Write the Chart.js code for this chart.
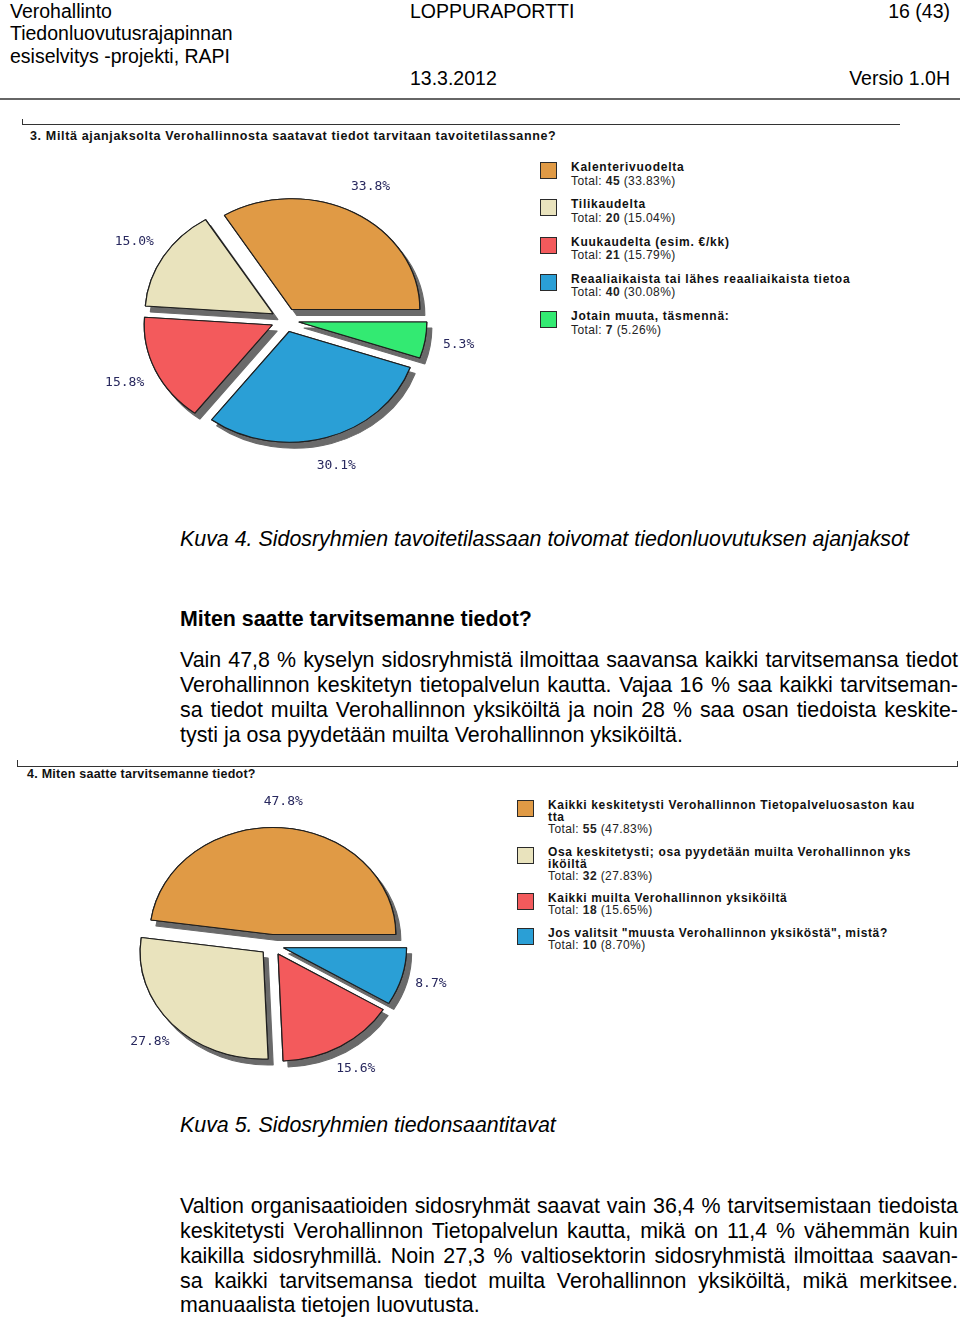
<!DOCTYPE html>
<html lang="fi">
<head>
<meta charset="utf-8">
<title>Loppuraportti 16 (43)</title>
<script src="https://cdn.jsdelivr.net/npm/chart.js@4.4.1/dist/chart.umd.min.js"></script>
<style>
  body { margin:0; width:960px; height:1321px; position:relative; overflow:hidden; background:#fff;
         font-family:"Liberation Sans", Arial, sans-serif; color:#000; }
  .t { position:absolute; white-space:nowrap; }
  .hd { font-size:19.5px; line-height:22px; }
  .body { font-size:21.4px; line-height:25px; }
  .j { position:absolute; left:180px; width:778px; text-align:justify; text-align-last:justify; font-size:21.4px; line-height:25px; }
  .rule { position:absolute; background:#333; }
  .qtitle { font-weight:bold; font-size:12.5px; letter-spacing:0.65px; color:#111; }
  .sw { position:absolute; box-sizing:border-box; width:17px; height:17px; border:1.5px solid #2a2a2a; }
  .lg { position:absolute; font-size:12px; white-space:nowrap; color:#222; letter-spacing:0.4px; }
  .lg .nm { font-weight:bold; letter-spacing:0.75px; color:#111; }
  #legend2 .nm { letter-spacing:0.65px; }
  canvas { position:absolute; }
</style>
</head>
<body>

<div class="t hd" style="left:10px;top:0">Verohallinto</div>
<div class="t hd" style="left:10px;top:22px">Tiedonluovutusrajapinnan</div>
<div class="t hd" style="left:10px;top:45px">esiselvitys -projekti, RAPI</div>
<div class="t hd" style="left:410px;top:0">LOPPURAPORTTI</div>
<div class="t hd" style="right:10px;top:0">16 (43)</div>
<div class="t hd" style="left:410px;top:67px">13.3.2012</div>
<div class="t hd" style="right:10px;top:67px">Versio 1.0H</div>
<div class="rule" style="left:0;top:98px;width:960px;height:2px;background:#666"></div>

<!-- kysymys 3 -->
<div class="rule" style="left:22px;top:124px;width:878px;height:1px"></div>
<div class="rule" style="left:22px;top:119px;width:1px;height:6px"></div>
<div class="t qtitle" style="left:30px;top:129px">3. Miltä ajanjaksolta Verohallinnosta saatavat tiedot tarvitaan tavoitetilassanne?</div>
<canvas id="pie1" width="420" height="320" style="left:75px;top:160px"></canvas>
<div id="legend1"></div>

<div class="t body" style="left:180px;top:527px;font-style:italic">Kuva 4. Sidosryhmien tavoitetilassaan toivomat tiedonluovutuksen ajanjaksot</div>
<div class="t body" style="left:180px;top:607px;font-weight:bold">Miten saatte tarvitsemanne tiedot?</div>
<div class="j" style="top:648px">Vain 47,8 % kyselyn sidosryhmistä ilmoittaa saavansa kaikki tarvitsemansa tiedot</div>
<div class="j" style="top:673px">Verohallinnon keskitetyn tietopalvelun kautta. Vajaa 16 % saa kaikki tarvitseman-</div>
<div class="j" style="top:698px">sa tiedot muilta Verohallinnon yksiköiltä ja noin 28 % saa osan tiedoista keskite-</div>
<div class="t body" style="left:180px;top:723px">tysti ja osa pyydetään muilta Verohallinnon yksiköiltä.</div>

<!-- kysymys 4 -->
<div class="rule" style="left:17px;top:766px;width:941px;height:1px"></div>
<div class="rule" style="left:17px;top:760px;width:1px;height:7px"></div>
<div class="rule" style="left:957px;top:761px;width:1px;height:6px"></div>
<div class="t qtitle" style="left:27px;top:767px;letter-spacing:0.25px">4. Miten saatte tarvitsemanne tiedot?</div>
<canvas id="pie2" width="400" height="320" style="left:72px;top:785px"></canvas>
<div id="legend2"></div>

<div class="t body" style="left:180px;top:1113px;font-style:italic">Kuva 5. Sidosryhmien tiedonsaantitavat</div>
<div class="j" style="top:1194px">Valtion organisaatioiden sidosryhmät saavat vain 36,4 % tarvitsemistaan tiedoista</div>
<div class="j" style="top:1219px">keskitetysti Verohallinnon Tietopalvelun kautta, mikä on 11,4 % vähemmän kuin</div>
<div class="j" style="top:1244px">kaikilla sidosryhmillä. Noin 27,3 % valtiosektorin sidosryhmistä ilmoittaa saavan-</div>
<div class="j" style="top:1269px">sa kaikki tarvitsemansa tiedot muilta Verohallinnon yksiköiltä, mikä merkitsee.</div>
<div class="t body" style="left:180px;top:1293px">manuaalista tietojen luovutusta.</div>

<script>
// 3. Miltä ajanjaksolta ...
const periods = ['Kalenterivuodelta', 'Tilikaudelta', 'Kuukaudelta (esim. €/kk)',
                 'Reaaliaikaista tai lähes reaaliaikaista tietoa', 'Jotain muuta, täsmennä:'];
const periodTotals = [45, 20, 21, 40, 7];
const periodShares = [33.83, 15.04, 15.79, 30.08, 5.26];
const periodPct = ['33.8%', '15.0%', '15.8%', '30.1%', '5.3%'];
const periodColors = ['#e09a45', '#e9e3bd', '#f35a5c', '#2a9fd6', '#33ea72'];

// 4. Miten saatte tarvitsemanne tiedot?
const channels = ['Kaikki keskitetysti Verohallinnon Tietopalveluosaston kau\ntta',
                  'Osa keskitetysti; osa pyydetään muilta Verohallinnon yks\niköiltä',
                  'Kaikki muilta Verohallinnon yksiköiltä',
                  'Jos valitsit "muusta Verohallinnon yksiköstä", mistä?'];
const channelTotals = [55, 32, 18, 10];
const channelShares = [47.83, 27.83, 15.65, 8.70];
const channelPct = ['47.8%', '27.8%', '15.6%', '8.7%'];
const channelColors = ['#e09a45', '#e9e3bd', '#f35a5c', '#2a9fd6'];

// tilted, exploded pie with drop shadow
const tiltPie = {
  id: 'tiltPie',
  beforeDatasetsDraw(chart, args, o) {
    const ctx = chart.ctx;
    const arcs = chart.getDatasetMeta(0).data;
    const cy = arcs[0].y;
    const pass = (shadow) => {
      ctx.save();
      if (shadow) {
        ctx.shadowColor = '#6a6a6a';
        ctx.shadowOffsetX = 5;
        ctx.shadowOffsetY = 6;
      }
      ctx.translate(0, cy);
      ctx.scale(1, o.squash);
      ctx.translate(0, -cy);
      arcs.forEach(arc => {
        const mid = (arc.startAngle + arc.endAngle) / 2;
        ctx.save();
        ctx.translate(Math.cos(mid) * o.explode, Math.sin(mid) * o.explode);
        arc.draw(ctx);
        ctx.restore();
      });
      ctx.restore();
    };
    pass(true);
    pass(false);
    return false;
  },
  afterDraw(chart, args, o) {
    const ctx = chart.ctx;
    const arcs = chart.getDatasetMeta(0).data;
    const txt = chart.data.datasets[0].pct;
    ctx.save();
    ctx.font = '13px "DejaVu Sans Mono"';
    ctx.fillStyle = '#28285e';
    ctx.textAlign = 'center';
    ctx.textBaseline = 'middle';
    arcs.forEach((arc, i) => {
      const mid = (arc.startAngle + arc.endAngle) / 2;
      const r = arc.outerRadius + o.labelGap;
      ctx.fillText(txt[i], arc.x + Math.cos(mid) * r, arc.y + Math.sin(mid) * r * o.squash);
    });
    ctx.restore();
  }
};

function makePie(id, names, values, colors, pct, opts) {
  // slices run counter-clockwise from 3 o'clock in the original
  return new Chart(document.getElementById(id), {
    type: 'pie',
    data: {
      labels: names.slice().reverse(),
      datasets: [{
        data: values.slice().reverse(),
        backgroundColor: colors.slice().reverse(),
        pct: pct.slice().reverse(),
        borderColor: '#1e1e1e',
        borderWidth: 1.2,
        hoverOffset: 0
      }]
    },
    options: {
      responsive: false,
      animation: false,
      events: [],
      rotation: 90,
      radius: opts.radius,
      layout: { padding: 0 },
      plugins: { legend: { display: false }, tooltip: { enabled: false }, tiltPie: opts }
    },
    plugins: [tiltPie]
  });
}

function makeLegend(id, x, top, lh, gap, names, totals, shares, colors) {
  const box = document.getElementById(id);
  let y = top;
  names.forEach((n, i) => {
    const lines = n.split('\n');
    const sw = document.createElement('div');
    sw.className = 'sw';
    sw.style.left = x + 'px';
    sw.style.top = (y + 1) + 'px';
    sw.style.background = colors[i];
    box.appendChild(sw);
    const tx = document.createElement('div');
    tx.className = 'lg';
    tx.style.left = (x + 31) + 'px';
    tx.style.top = y + 'px';
    tx.style.lineHeight = lh + 'px';
    tx.innerHTML = lines.map(l => '<div class="nm">' + l + '</div>').join('') +
      '<div>Total: <b>' + totals[i] + '</b> (' + shares[i].toFixed(2) + '%)</div>';
    box.appendChild(tx);
    y += (lines.length + 1) * lh + gap;
  });
}

makePie('pie1', periods, periodTotals, periodColors, periodPct,
        { radius: 128, squash: 0.865, explode: 14, labelGap: 48 });
makePie('pie2', channels, channelTotals, channelColors, channelPct,
        { radius: 123, squash: 0.87, explode: 12, labelGap: 42 });

makeLegend('legend1', 540, 161, 13.5, 10.3, periods, periodTotals, periodShares, periodColors);
makeLegend('legend2', 517, 799, 12, 10.5, channels, channelTotals, channelShares, channelColors);
</script>
</body>
</html>
